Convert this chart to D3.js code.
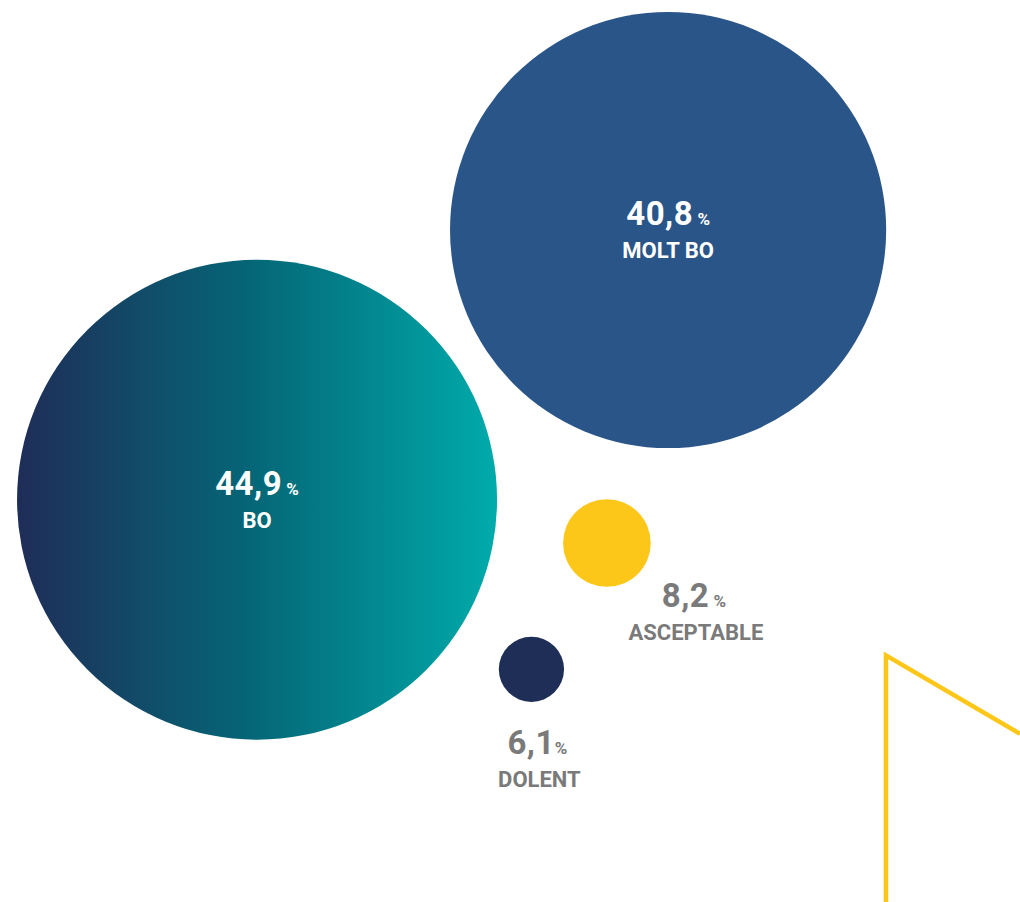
<!DOCTYPE html>
<html>
<head>
<meta charset="utf-8">
<script src="https://cdn.jsdelivr.net/npm/d3@7"></script>
<style>
  html, body { margin: 0; padding: 0; background: #ffffff; }
  svg { display: block; }
  text { font-family: Roboto, "Noto Sans", sans-serif; font-weight: 700; }
</style>
</head>
<body>
<div class="main"></div>
<script>
// chart data
var categories = ["MOLT BO", "BO", "ASCEPTABLE", "DOLENT"];
var values = [40.8, 44.9, 8.2, 6.1];
var unit = "%";

// canvas config
var width = 1020;
var height = 902;

// layout (relative to canvas), kept apart from the data
var centers = [[0.655, 0.255], [0.252, 0.554], [0.595, 0.602], [0.521, 0.742]];
var labelInside = [true, true, false, false];
var labelPos = [[0, -5], [0, -5], [87, 64], [6, 85]];//offset of value baseline from centre
var unitGap = [true, true, true, false];
var fills = ["#2a5589", "url(#tealGrad)", "#fdc71a", "#1f2e56"];

var caFormat = d3.formatLocale({decimal: ",", thousands: ".", grouping: [3], currency: ["", "€"]}).format(".1f");

var xScale = d3.scaleLinear().domain([0, 1]).range([0, width]);
var yScale = d3.scaleLinear().domain([0, 1]).range([0, height]);
var rScale = d3.scaleLinear().domain([0, d3.max(values)]).range([0, 240]);

var svg = d3.select(".main")
  .append("svg")
  .attr("width", width)
  .attr("height", height);

// gradient for the big bubble
var grad = svg.append("defs")
  .append("linearGradient")
  .attr("id", "tealGrad")
  .attr("x1", "0%").attr("x2", "100%")
  .attr("y1", "0%").attr("y2", "0%");
grad.append("stop").attr("offset", "0%").attr("stop-color", "#1f2d57");
grad.append("stop").attr("offset", "48%").attr("stop-color", "#056576");
grad.append("stop").attr("offset", "100%").attr("stop-color", "#00abab");

// yellow decorative corner line
var deco = d3.line()
  .x(function(d) { return xScale(d[0]); })
  .y(function(d) { return yScale(d[1]); });
svg.append("path")
  .attr("d", deco([[0.8686, 1.01], [0.8686, 0.7265], [1.0, 0.8135]]))
  .attr("fill", "none")
  .attr("stroke", "#fdc71a")
  .attr("stroke-width", 4.5);

var rows = categories.map(function(c, i) {
  return {cat: c, value: values[i], i: i};
});

var nodes = svg.append("g")
  .attr("class", "nodes")
  .selectAll("g")
  .data(rows)
  .enter()
  .append("g")
  .attr("transform", function(d) {
    return "translate(" + xScale(centers[d.i][0]) + "," + yScale(centers[d.i][1]) + ")";
  });

nodes.append("circle")
  .attr("r", function(d) { return rScale(d.value); })
  .style("fill", function(d) { return fills[d.i]; });

// value + unit
var valText = nodes.append("text")
  .attr("x", function(d) { return labelPos[d.i][0]; })
  .attr("y", function(d) { return labelPos[d.i][1]; })
  .attr("text-anchor", "middle")
  .style("fill", function(d) { return labelInside[d.i] ? "#ffffff" : "#7a7a7a"; });
valText.append("tspan")
  .style("font-size", "33px")
  .style("letter-spacing", "0.5px")
  .text(function(d) { return caFormat(d.value); });
valText.append("tspan")
  .style("font-size", "17px")
  .text(function(d) { return (unitGap[d.i] ? " " : "") + unit; });

// category label
nodes.append("text")
  .attr("x", function(d) { return labelPos[d.i][0] + (labelInside[d.i] ? 0 : 2); })
  .attr("y", function(d) { return labelPos[d.i][1] + 33; })
  .attr("text-anchor", "middle")
  .style("font-size", "22px")
  .style("fill", function(d) { return labelInside[d.i] ? "#ffffff" : "#7a7a7a"; })
  .text(function(d) { return d.cat; });
</script>
</body>
</html>
